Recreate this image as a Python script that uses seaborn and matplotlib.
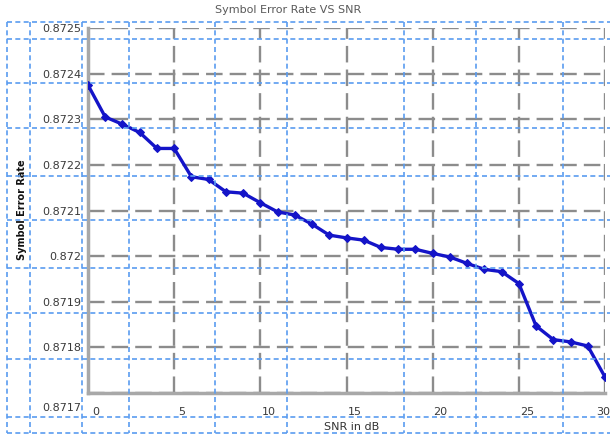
import numpy as np
import pandas as pd
import matplotlib
matplotlib.use("Agg")
import matplotlib.pyplot as plt
from matplotlib.lines import Line2D
from matplotlib.transforms import ScaledTranslation
import seaborn as sns

# ---- data ----
snr_db = list(range(0, 31))
ser = [0.872375, 0.872305, 0.872289, 0.872271, 0.872236, 0.872236, 0.872174,
       0.872168, 0.872141, 0.872138, 0.872117, 0.872097, 0.872090, 0.872070,
       0.872046, 0.872040, 0.872035, 0.872019, 0.872015, 0.872015, 0.872006,
       0.871998, 0.871984, 0.871971, 0.871966, 0.871940, 0.871847, 0.871817,
       0.871812, 0.871803, 0.871735]
x_ticks = [0, 5, 10, 15, 20, 25, 30]
y_ticks = [0.8717, 0.8718, 0.8719, 0.872, 0.8721, 0.8722, 0.8723, 0.8724, 0.8725]
y_tick_labels = ["0.8717", "0.8718", "0.8719", "0.872", "0.8721", "0.8722",
                 "0.8723", "0.8724", "0.8725"]
title = "Symbol Error Rate VS SNR"
xlabel = "SNR in dB"
ylabel = "Symbol Error Rate"

df = pd.DataFrame({"snr": snr_db, "ser": ser})

sns.set_style("white")
plt.rcParams["font.family"] = ["DejaVu Sans"]

W, H = 612, 436
fig = plt.figure(figsize=(W / 100, H / 100), dpi=100)
ax = fig.add_axes([88 / W, 1 - 393 / H, (605 - 88) / W, (393 - 28) / H])

sns.lineplot(data=df, x="snr", y="ser", ax=ax, color="#1414c8", linewidth=2.4,
             marker="D", markersize=4, markeredgecolor="#1414c8", zorder=5)

ax.set_xlim(0, 30)
ax.set_ylim(0.8717, 0.8725)
ax.set_xticks(x_ticks)
ax.set_xticklabels([str(t) for t in x_ticks])
ax.set_yticks(y_ticks)
ax.set_yticklabels(y_tick_labels)
ax.set_xlabel("")
ax.set_ylabel("")

ax.grid(True, color="#8c8c8c", linestyle=(0, (7, 3)), linewidth=1.7)
ax.set_axisbelow(True)
for s in ["top", "right"]:
    ax.spines[s].set_visible(False)
for s in ["left", "bottom"]:
    ax.spines[s].set_color("#a8a8a8")
    ax.spines[s].set_linewidth(2.5)

ax.tick_params(axis="both", length=0, labelsize=8, labelcolor="#3a3a3a")
ax.tick_params(axis="x", pad=10)
ax.tick_params(axis="y", pad=5)

# shift tick labels like the reference screenshot
xlabs = ax.get_xticklabels()
for i, lab in enumerate(xlabs):
    dx = 0.08 if i < len(xlabs) - 1 else -0.02
    lab.set_transform(lab.get_transform() + ScaledTranslation(dx, 0, fig.dpi_scale_trans))
ylabs = ax.get_yticklabels()
ylabs[0].set_transform(ylabs[0].get_transform() + ScaledTranslation(0, -0.14, fig.dpi_scale_trans))

fig.text(288 / W, 1 - 10 / H, title, ha="center", va="center", fontsize=8, color="#5a5a5a")
fig.text(352 / W, 1 - 427 / H, xlabel, ha="center", va="center", fontsize=8, color="#333333")
fig.text(22 / W, 1 - 210 / H, ylabel, ha="center", va="center", rotation=90,
         fontsize=7, fontweight="bold", color="#111111")

# light-blue dashed table overlay from the screenshot
blue = "#5a9cf0"
hy = [22, 39, 83, 128, 176, 220, 268, 313, 359, 417, 433]
vx = [7, 30, 82, 129, 215, 287, 404, 476, 563]
for y in hy:
    fig.add_artist(Line2D([7 / W, 610 / W], [1 - y / H, 1 - y / H], transform=fig.transFigure,
                          color=blue, linestyle=(0, (3, 2)), linewidth=1.2, zorder=10))
for x in vx:
    fig.add_artist(Line2D([x / W, x / W], [1 - 22 / H, 1 - 433 / H], transform=fig.transFigure,
                          color=blue, linestyle=(0, (3, 2)), linewidth=1.2, zorder=10))

fig.savefig("out.png", dpi=100)
